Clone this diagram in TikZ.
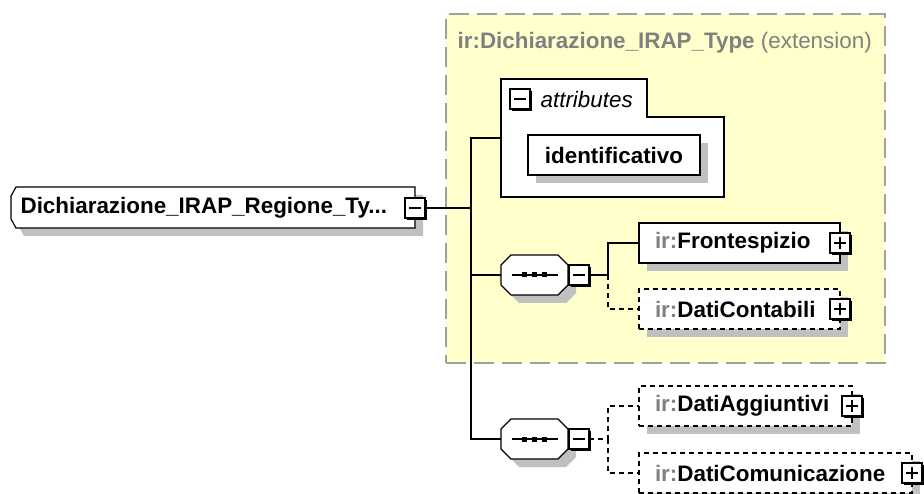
\documentclass[tikz,border=0pt]{standalone}
\usepackage{fontspec}
\setmainfont{Liberation Sans}
\usetikzlibrary{shadows}

\definecolor{extfill}{RGB}{255,255,204}
\definecolor{extline}{RGB}{160,160,160}
\definecolor{shadowgray}{RGB}{192,192,192}
\definecolor{prefix}{RGB}{128,128,128}

\newcommand\diagfont{\fontsize{22.4}{26}\selectfont}

\tikzset{
    boxshadow/.style={drop shadow={fill=shadowgray, opacity=1, shadow xshift=8pt, shadow yshift=-8pt}},
    elem/.style={draw, fill=white, boxshadow, anchor=west, minimum height=40pt,
        inner xsep=16pt, inner ysep=0pt, outer sep=0pt, align=left, font=\diagfont\bfseries},
    optional/.style={dash pattern=on 5pt off 4pt},
    extbox/.style={draw=extline, fill=extfill, line width=2pt, dash pattern=on 20pt off 8pt,
        minimum width=439pt, minimum height=349pt, inner sep=0pt},
    seqhold/.style={minimum width=67pt, minimum height=40pt, inner sep=0pt, outer sep=0pt},
    toggle/.style={draw, fill=white, minimum size=20pt, inner sep=0pt, outer sep=0pt,
        drop shadow={fill=black, opacity=1, shadow xshift=2pt, shadow yshift=-2pt}},
    togminus/.style={toggle, path picture={
        \draw ([xshift=-6pt]path picture bounding box.center) -- ([xshift=6pt]path picture bounding box.center);}},
    togplus/.style={toggle, path picture={
        \draw ([xshift=-6pt]path picture bounding box.center) -- ([xshift=6pt]path picture bounding box.center);
        \draw ([yshift=-6pt]path picture bounding box.center) -- ([yshift=6pt]path picture bounding box.center);}},
}

\begin{document}
\begin{tikzpicture}[x=1pt, y=-1pt, line width=1.2pt, font=\diagfont]

    \useasboundingbox (0,0) rectangle (924,494);

    \def\Ymain{208};
    \def\Xtrunk{471};
    \def\Xfork{608};
    \def\Xel{639};

    % extension area
    \node[extbox, anchor=north west] (ext) at (445,13) {};
    \node[anchor=west, inner sep=0pt, text=prefix] (exttitle) at (457,43)
        {\bfseries ir:Dichiarazione\_IRAP\_Type \mdseries(extension)};

    % main element
    \draw[fill=white, boxshadow] (16,187) -- (415,187) -- (415,228) -- (16,228)
        -- (11,219) -- (11,196) -- cycle;
    \node[anchor=west, inner sep=0pt, font=\diagfont\bfseries] (main) at (20,\Ymain)
        {Dichiarazione\_IRAP\_Regione\_Ty...};
    \node[togminus] (mainminus) at (415,\Ymain) {};
    \coordinate (trunk) at (\Xtrunk,\Ymain);

    % attributes
    \node[anchor=north west, minimum width=223pt, minimum height=118pt, inner sep=0pt, outer sep=0pt]
        (attrs) at (501,79) {};
    \draw[fill=white] (501,197) -- (501,79) -- (647,79) -- (647,117) -- (724,117) -- (724,197) -- cycle;
    \node[togminus] (attrminus) at (520,99) {};
    \node[anchor=west, inner sep=0pt, font=\diagfont\itshape] (attrlabel) at (540,99) {attributes};
    \node[elem, minimum width=172pt] (ident) at (528,155) {identificativo};

    % sequences
    \node[seqhold] (seqA) at (534.5,275) {};
    \node[seqhold] (seqB) at (534.5,439) {};
    \foreach \s in {seqA,seqB} {
        \draw[fill=white, boxshadow] ([xshift=10pt]\s.north west) -- ([xshift=-10pt]\s.north east)
            -- ([yshift=-10pt]\s.north east) -- ([yshift=10pt]\s.south east)
            -- ([xshift=-10pt]\s.south east) -- ([xshift=10pt]\s.south west)
            -- ([yshift=10pt]\s.south west) -- ([yshift=-10pt]\s.north west) -- cycle;
        \draw (\s.center) +(-23,0) -- +(23,0);
        \foreach \d in {-10,0,10}
            \fill ([xshift=\d pt]\s.center) +(-2.5,-2.5) rectangle +(2.5,2.5);
    }
    \node[togminus] (seqAminus) at ([xshift=11pt]seqA.east) {};
    \node[togminus] (seqBminus) at ([xshift=11pt]seqB.east) {};
    \coordinate (forkA) at (\Xfork,275);
    \coordinate (forkB) at (\Xfork,439);

    % elements
    \node[elem, text width=169pt] (front) at (\Xel,243) {\textcolor{prefix}{ir:}Frontespizio};
    \node[elem, optional, text width=169pt] (conta) at (\Xel,309) {\textcolor{prefix}{ir:}DatiContabili};
    \node[elem, optional, text width=181pt] (aggiu) at (\Xel,406) {\textcolor{prefix}{ir:}DatiAggiuntivi};
    \node[elem, optional, text width=241pt] (comun) at (\Xel,473) {\textcolor{prefix}{ir:}DatiComunicazione};
    \node[togplus] (frontplus) at (front.east) {};
    \node[togplus] (contaplus) at (conta.east) {};
    \node[togplus] (aggiuplus) at (aggiu.east) {};
    \node[togplus] (comunplus) at (comun.east) {};

    % connectors
    \draw (mainminus) -- (trunk) |- (attrs);
    \draw (trunk) |- (seqA);
    \draw (trunk) |- (seqB);
    \draw (seqAminus) -- (forkA) |- (front);
    \draw[optional] (forkA) |- (conta);
    \draw[optional] (seqBminus) -- (forkB) |- (aggiu);
    \draw[optional] (forkB) |- (comun);
\end{tikzpicture}
\end{document}
